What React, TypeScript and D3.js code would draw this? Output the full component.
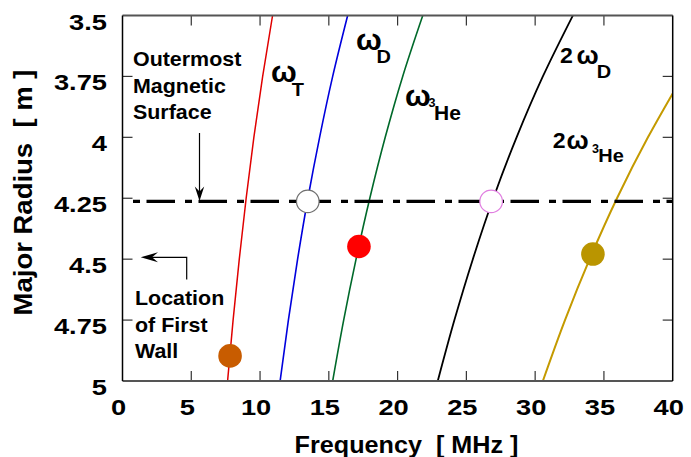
import React from "react";
import * as d3 from "d3";

// Major radius samples (m) and resonance frequency (MHz) for each curve
const radiusPts = [3.5, 3.75, 4.0, 4.25, 4.5, 4.75, 5.0];
const omegaT = [10.91, 10.19, 9.55, 8.99, 8.49, 8.04, 7.64];
const omegaD = [16.37, 15.28, 14.33, 13.48, 12.73, 12.06, 11.46];
const omegaHe3 = [21.83, 20.37, 19.1, 17.98, 16.98, 16.08, 15.28];
const omega2D = [32.74, 30.56, 28.65, 26.96, 25.47, 24.13, 22.92];
const radius2He3 = [3.82, 4.0, 4.25, 4.5, 4.75, 5.0];
const omega2He3 = [40.0, 38.2, 35.95, 33.96, 32.17, 30.56];

// Markers: [frequency, radius]
const filledDots: [number, number, string][] = [
  [7.82, 4.897, "#c85c00"],
  [17.19, 4.448, "#ff0000"],
  [34.2, 4.479, "#ba9500"],
];
const openDots: [number, number, string][] = [
  [13.47, 4.263, "#707070"],
  [26.8, 4.263, "#e07ee0"],
];
const lcfsRadius = 4.263;

const xTicks = [0, 5, 10, 15, 20, 25, 30, 35, 40];
const yTicks = [3.5, 3.75, 4, 4.25, 4.5, 4.75, 5];
const yTickLabels = ["3.5", "3.75", "4", "4.25", "4.5", "4.75", "5"];

const W = 691;
const H = 457;
const FONT = "'Liberation Sans', Arial, Helvetica, sans-serif";

const x = d3.scaleLinear().domain([0, 40]).range([122.5, 672.7]);
const y = d3.scaleLinear().domain([3.5, 5]).range([15.5, 381]);

type TP = {
  x: number;
  y: number;
  size: number;
  sx?: number;
  anchor?: "start" | "middle" | "end";
  rotate?: number;
  children: React.ReactNode;
};
function T({ x: tx, y: ty, size, sx = 1.1, anchor = "start", rotate = 0, children }: TP) {
  return (
    <text
      transform={`translate(${tx},${ty}) rotate(${rotate}) scale(${sx},1)`}
      fontFamily={FONT}
      fontWeight="bold"
      fontSize={size}
      textAnchor={anchor}
      fill="#000"
    >
      {children}
    </text>
  );
}

export default function App() {
  const line = d3
    .line<[number, number]>()
    .x((d) => x(d[0]))
    .y((d) => y(d[1]))
    .curve(d3.curveMonotoneY);

  const series: { f: number[]; r: number[]; color: string; w: number }[] = [
    { f: omegaT, r: radiusPts, color: "#e00000", w: 1.5 },
    { f: omegaD, r: radiusPts, color: "#0000dd", w: 1.6 },
    { f: omegaHe3, r: radiusPts, color: "#00692a", w: 1.6 },
    { f: omega2D, r: radiusPts, color: "#000000", w: 1.8 },
    { f: omega2He3, r: radius2He3, color: "#c49a00", w: 2 },
  ];

  const [x0, x1] = x.range();
  const [y0, y1] = y.range();
  const tickLen = 10;

  return (
    <svg width={W} height={H} style={{ position: "absolute", left: 0, top: 0, background: "#fff" }}>
      <defs>
        <clipPath id="plot">
          <rect x={x0} y={y0} width={x1 - x0} height={y1 - y0} />
        </clipPath>
      </defs>

      {/* ticks */}
      <g stroke="#333" strokeWidth={1.2}>
        {xTicks.slice(1, -1).map((t) => (
          <g key={"xt" + t}>
            <line x1={x(t)} x2={x(t)} y1={y1} y2={y1 - tickLen} />
            <line x1={x(t)} x2={x(t)} y1={y0} y2={y0 + tickLen} />
          </g>
        ))}
        {yTicks.slice(1, -1).map((t) => (
          <g key={"yt" + t}>
            <line x1={x0} x2={x0 + tickLen} y1={y(t)} y2={y(t)} />
            <line x1={x1} x2={x1 - tickLen} y1={y(t)} y2={y(t)} />
          </g>
        ))}
      </g>

      {/* curves */}
      <g clipPath="url(#plot)" fill="none">
        {series.map((s, i) => (
          <path
            key={i}
            d={line(s.f.map((f, j) => [f, s.r[j]] as [number, number])) || ""}
            stroke={s.color}
            strokeWidth={s.w}
          />
        ))}
      </g>

      {/* outermost magnetic surface */}
      <line
        x1={133}
        x2={x1}
        y1={y(lcfsRadius)}
        y2={y(lcfsRadius)}
        stroke="#000"
        strokeWidth={3.2}
        strokeDasharray="7 6.5 28.5 10"
      />

      {/* markers */}
      {openDots.map(([f, r, c], i) => (
        <circle key={"o" + i} cx={x(f)} cy={y(r)} r={11.3} fill="#fff" stroke={c} strokeWidth={1.2} />
      ))}
      {filledDots.map(([f, r, c], i) => (
        <circle key={"f" + i} cx={x(f)} cy={y(r)} r={11.8} fill={c} />
      ))}

      {/* frame */}
      <line x1={x0} x2={x1} y1={y0} y2={y0} stroke="#555" strokeWidth={2} />
      <line x1={x0} x2={x1} y1={y1} y2={y1} stroke="#555" strokeWidth={2} />
      <line x1={x0} x2={x0} y1={y0} y2={y1} stroke="#000" strokeWidth={1.5} />
      <line x1={x1} x2={x1} y1={y0} y2={y1} stroke="#000" strokeWidth={1.5} />

      {/* tick labels */}
      {yTicks.map((t, i) => (
        <T key={"yl" + t} x={107} y={y(t) + 14} size={22} anchor="end" sx={1.24}>
          {yTickLabels[i]}
        </T>
      ))}
      {xTicks.map((t) => (
        <T key={"xl" + t} x={x(t) - 4} y={415} size={22} anchor="middle" sx={1.24}>
          {t}
        </T>
      ))}

      {/* axis titles */}
      <T x={406.5} y={452.5} size={24} anchor="middle" sx={1.05}>
        {"Frequency\u00a0\u00a0[ MHz ]"}
      </T>
      <T x={32} y={192.5} size={25} anchor="middle" sx={1.1} rotate={-90}>
        {"Major Radius\u00a0\u00a0[ m ]"}
      </T>

      {/* annotations */}
      <T x={133} y={65.7} size={21} sx={1.02}>Outermost</T>
      <T x={133} y={92.7} size={21} sx={1.02}>Magnetic</T>
      <T x={133} y={119.3} size={21} sx={1.02}>Surface</T>
      <line x1={199.5} x2={199.5} y1={133} y2={194} stroke="#000" strokeWidth={1.2} />
      <path d="M199.5,201 L194.8,186.5 L199.5,191.5 L204.2,186.5 Z" fill="#000" />

      <T x={135} y={305} size={21} sx={1.02}>Location</T>
      <T x={135} y={331.7} size={21} sx={1.02}>of First</T>
      <T x={135} y={358.3} size={21} sx={1.02}>Wall</T>
      <path d="M186.7,279.5 L186.7,257.3 L147,257.3" fill="none" stroke="#000" strokeWidth={1.2} />
      <path d="M140.7,257.3 L158,252.3 L152,257.3 L158,262.3 Z" fill="#000" />

      {/* resonance labels */}
      <T x={271} y={81.7} size={29} sx={1.05}>ω</T>
      <T x={291.7} y={96} size={19} sx={1.05}>T</T>

      <T x={356} y={50} size={29} sx={1.05}>ω</T>
      <T x={376.5} y={63.3} size={19} sx={1.05}>D</T>

      <T x={405} y={105.5} size={29} sx={1.05}>ω</T>
      <T x={428.5} y={107.3} size={12} sx={1.05}>3</T>
      <T x={434} y={120} size={20} sx={1.05}>He</T>

      <T x={560} y={63.3} size={22} sx={1.05}>2</T>
      <T x={576.5} y={64} size={25} sx={1.05}>ω</T>
      <T x={596.7} y={78.3} size={19} sx={1.05}>D</T>

      <T x={552.7} y={148.3} size={22} sx={1.05}>2</T>
      <T x={566.5} y={148.5} size={25} sx={1.05}>ω</T>
      <T x={592} y={152.7} size={12} sx={1.05}>3</T>
      <T x={598.3} y={162.3} size={19} sx={1.05}>He</T>
    </svg>
  );
}
